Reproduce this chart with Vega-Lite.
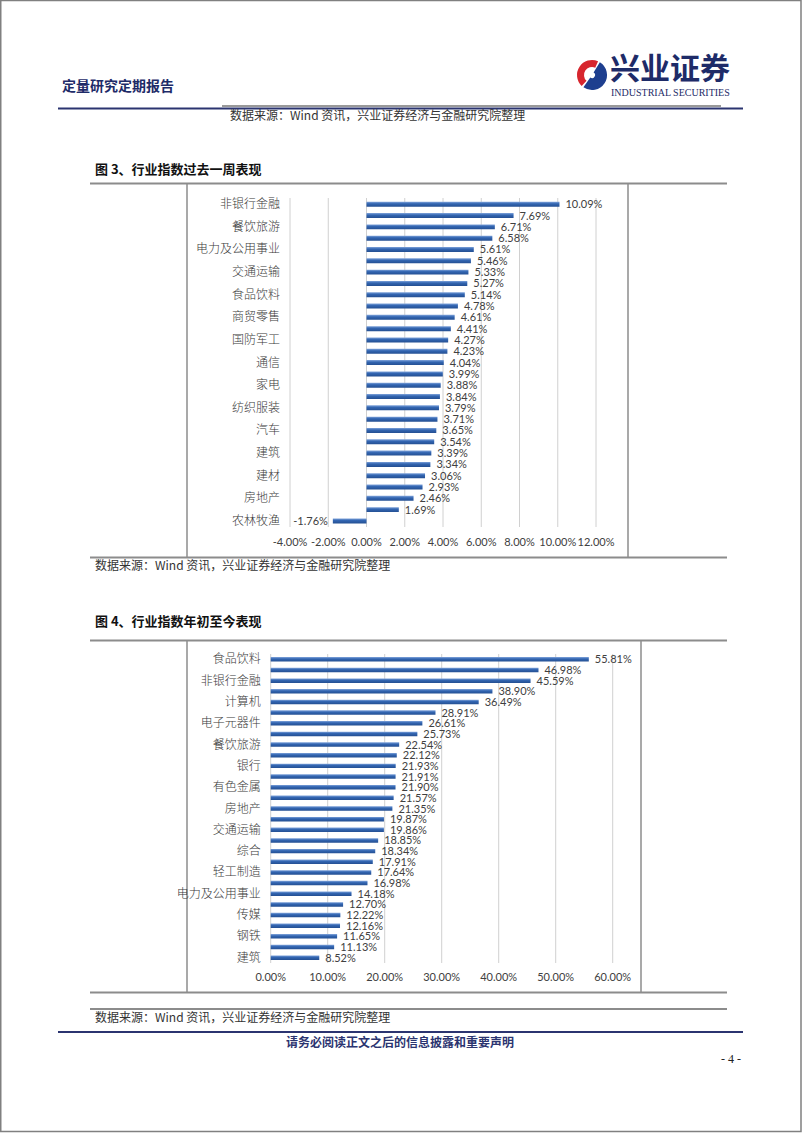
{
  "$schema": "https://vega.github.io/schema/vega-lite/v6.json",
  "width": 802,
  "height": 1133,
  "autosize": "none",
  "padding": 0,
  "background": "white",
  "config": {"view": {"stroke": null}, "locale": {"number": {"decimal": ".", "thousands": ",", "grouping": [3], "currency": ["", ""], "minus": "-"}}},
  "data": {"values": [{}]},
  "datasets": {
    "week": [
      {"i": "非银行金融", "v": 0.1009},
      {"i": "计算机", "v": 0.0769},
      {"i": "餐饮旅游", "v": 0.0671},
      {"i": "银行", "v": 0.0658},
      {"i": "电力及公用事业", "v": 0.0561},
      {"i": "电子元器件", "v": 0.0546},
      {"i": "交通运输", "v": 0.0533},
      {"i": "医药", "v": 0.0527},
      {"i": "食品饮料", "v": 0.0514},
      {"i": "传媒", "v": 0.0478},
      {"i": "商贸零售", "v": 0.0461},
      {"i": "综合", "v": 0.0441},
      {"i": "国防军工", "v": 0.0427},
      {"i": "电力设备", "v": 0.0423},
      {"i": "通信", "v": 0.0404},
      {"i": "轻工制造", "v": 0.0399},
      {"i": "家电", "v": 0.0388},
      {"i": "机械", "v": 0.0384},
      {"i": "纺织服装", "v": 0.0379},
      {"i": "基础化工", "v": 0.0371},
      {"i": "汽车", "v": 0.0365},
      {"i": "石油石化", "v": 0.0354},
      {"i": "建筑", "v": 0.0339},
      {"i": "有色金属", "v": 0.0334},
      {"i": "建材", "v": 0.0306},
      {"i": "钢铁", "v": 0.0293},
      {"i": "房地产", "v": 0.0246},
      {"i": "煤炭", "v": 0.0169},
      {"i": "农林牧渔", "v": -0.0176}
    ],
    "ytd": [
      {"i": "食品饮料", "v": 0.5581},
      {"i": "家电", "v": 0.4698},
      {"i": "非银行金融", "v": 0.4559},
      {"i": "医药", "v": 0.3890},
      {"i": "计算机", "v": 0.3649},
      {"i": "通信", "v": 0.2891},
      {"i": "电子元器件", "v": 0.2661},
      {"i": "电力设备", "v": 0.2573},
      {"i": "餐饮旅游", "v": 0.2254},
      {"i": "建材", "v": 0.2212},
      {"i": "银行", "v": 0.2193},
      {"i": "国防军工", "v": 0.2191},
      {"i": "有色金属", "v": 0.2190},
      {"i": "机械", "v": 0.2157},
      {"i": "房地产", "v": 0.2135},
      {"i": "汽车", "v": 0.1987},
      {"i": "交通运输", "v": 0.1986},
      {"i": "商贸零售", "v": 0.1885},
      {"i": "综合", "v": 0.1834},
      {"i": "基础化工", "v": 0.1791},
      {"i": "轻工制造", "v": 0.1764},
      {"i": "纺织服装", "v": 0.1698},
      {"i": "电力及公用事业", "v": 0.1418},
      {"i": "农林牧渔", "v": 0.1270},
      {"i": "传媒", "v": 0.1222},
      {"i": "石油石化", "v": 0.1216},
      {"i": "钢铁", "v": 0.1165},
      {"i": "煤炭", "v": 0.1113},
      {"i": "建筑", "v": 0.0852}
    ],
    "t1": [{"t": -0.04}, {"t": -0.02}, {"t": 0}, {"t": 0.02}, {"t": 0.04}, {"t": 0.06}, {"t": 0.08}, {"t": 0.10}, {"t": 0.12}],
    "t2": [{"t": 0}, {"t": 0.1}, {"t": 0.2}, {"t": 0.3}, {"t": 0.4}, {"t": 0.5}, {"t": 0.6}]
  },
  "resolve": {"scale": {"x": "independent", "y": "independent"}},
  "layer": [
    {"mark": {"type": "rect", "fill": null, "stroke": "#808080", "strokeWidth": 1.5}, "encoding": {"x": {"value": 0.75}, "x2": {"value": 801}, "y": {"value": 0.5}, "y2": {"value": 1131.5}}},
    {"mark": {"type": "text", "text": "定量研究定期报告", "font": "Noto Sans CJK SC", "fontSize": 14, "fontWeight": "bold", "color": "#1E2B68", "align": "left", "baseline": "middle"}, "encoding": {"x": {"value": 62}, "y": {"value": 87}}},
    {"mark": {"type": "arc", "color": "#D7262E"}, "encoding": {"x": {"value": 592}, "y": {"value": 75}, "theta": {"value": 3.9}, "theta2": {"value": 6.7}, "radius": {"value": 15}, "radius2": {"value": 8}}},
    {"mark": {"type": "arc", "color": "#1E3F8F"}, "encoding": {"x": {"value": 592}, "y": {"value": 75}, "theta": {"value": 0.55}, "theta2": {"value": 3.75}, "radius": {"value": 15}, "radius2": {"value": 3}}},
    {"mark": {"type": "text", "text": "兴业证券", "font": "Noto Sans CJK SC", "fontSize": 30, "fontWeight": "bold", "color": "#1E2B68", "align": "left", "baseline": "middle"}, "encoding": {"x": {"value": 610}, "y": {"value": 70}}},
    {"mark": {"type": "text", "text": "INDUSTRIAL SECURITIES", "font": "Liberation Serif", "fontSize": 10, "color": "#1E2B68", "align": "left", "baseline": "middle"}, "encoding": {"x": {"value": 611}, "y": {"value": 92.5}}},
    {"mark": {"type": "rule", "color": "#999999", "strokeWidth": 2}, "encoding": {"x": {"value": 222}, "x2": {"value": 721}, "y": {"value": 106}}},
    {"mark": {"type": "rule", "color": "#2B3470", "strokeWidth": 2}, "encoding": {"x": {"value": 58}, "x2": {"value": 743}, "y": {"value": 108.5}}},
    {"mark": {"type": "text", "text": "数据来源：Wind 资讯，兴业证券经济与金融研究院整理", "font": "Noto Sans CJK SC", "fontSize": 12, "color": "#333333", "align": "left", "baseline": "middle"}, "encoding": {"x": {"value": 230}, "y": {"value": 116}}},
    {"mark": {"type": "text", "text": "图 3、行业指数过去一周表现", "font": "Noto Sans CJK SC", "fontSize": 13, "fontWeight": "bold", "color": "#111111", "align": "left", "baseline": "middle"}, "encoding": {"x": {"value": 95}, "y": {"value": 170}}},
    {"mark": {"type": "rule", "color": "#8C8C8C", "strokeWidth": 2}, "encoding": {"x": {"value": 90}, "x2": {"value": 727}, "y": {"value": 183.5}}},
    {"mark": {"type": "rule", "color": "#8C8C8C", "strokeWidth": 2}, "encoding": {"x": {"value": 90}, "x2": {"value": 727}, "y": {"value": 557.5}}},
    {"mark": {"type": "rule", "color": "#8C8C8C", "strokeWidth": 1.5}, "encoding": {"x": {"value": 187}, "y": {"value": 183.5}, "y2": {"value": 557.5}}},
    {"mark": {"type": "rule", "color": "#8C8C8C", "strokeWidth": 1.5}, "encoding": {"x": {"value": 628}, "y": {"value": 183.5}, "y2": {"value": 557.5}}},
    {"mark": {"type": "text", "text": "数据来源：Wind 资讯，兴业证券经济与金融研究院整理", "font": "Noto Sans CJK SC", "fontSize": 12, "color": "#333333", "align": "left", "baseline": "middle"}, "encoding": {"x": {"value": 95}, "y": {"value": 566}}},
    {"mark": {"type": "text", "text": "图 4、行业指数年初至今表现", "font": "Noto Sans CJK SC", "fontSize": 13, "fontWeight": "bold", "color": "#111111", "align": "left", "baseline": "middle"}, "encoding": {"x": {"value": 95}, "y": {"value": 622}}},
    {"mark": {"type": "rule", "color": "#8C8C8C", "strokeWidth": 2}, "encoding": {"x": {"value": 90}, "x2": {"value": 727}, "y": {"value": 640.5}}},
    {"mark": {"type": "rule", "color": "#8C8C8C", "strokeWidth": 2}, "encoding": {"x": {"value": 90}, "x2": {"value": 727}, "y": {"value": 992.5}}},
    {"mark": {"type": "rule", "color": "#8C8C8C", "strokeWidth": 1.5}, "encoding": {"x": {"value": 187}, "y": {"value": 640.5}, "y2": {"value": 992.5}}},
    {"mark": {"type": "rule", "color": "#8C8C8C", "strokeWidth": 1.5}, "encoding": {"x": {"value": 641}, "y": {"value": 640.5}, "y2": {"value": 992.5}}},
    {"mark": {"type": "rule", "color": "#8C8C8C", "strokeWidth": 2}, "encoding": {"x": {"value": 90}, "x2": {"value": 727}, "y": {"value": 1009}}},
    {"mark": {"type": "text", "text": "数据来源：Wind 资讯，兴业证券经济与金融研究院整理", "font": "Noto Sans CJK SC", "fontSize": 12, "color": "#333333", "align": "left", "baseline": "middle"}, "encoding": {"x": {"value": 95}, "y": {"value": 1018}}},
    {"mark": {"type": "rule", "color": "#2B3470", "strokeWidth": 2}, "encoding": {"x": {"value": 58}, "x2": {"value": 743}, "y": {"value": 1032}}},
    {"mark": {"type": "text", "text": "请务必阅读正文之后的信息披露和重要声明", "font": "Noto Sans CJK SC", "fontSize": 12, "fontWeight": "bold", "color": "#2B3470", "align": "center", "baseline": "middle"}, "encoding": {"x": {"value": 400}, "y": {"value": 1043}}},
    {"mark": {"type": "text", "text": "- 4 -", "font": "Liberation Serif", "fontSize": 12, "color": "#222222", "align": "right", "baseline": "middle"}, "encoding": {"x": {"value": 741}, "y": {"value": 1059}}},
    {
      "data": {"name": "week"},
      "layer": [
        {
          "data": {"name": "t1"},
          "mark": {"type": "rule", "color": "#D0D0D0", "strokeWidth": 1},
          "encoding": {
            "x": {"field": "t", "type": "quantitative", "axis": null, "scale": {"domain": [-0.04, 0.12], "range": [290, 596], "nice": false, "zero": false}},
            "y": {"value": 198},
            "y2": {"value": 527}
          }
        },
        {
          "data": {"name": "t1"},
          "mark": {"type": "text", "font": "Lato", "fontSize": 11, "color": "#404040", "align": "center", "baseline": "middle"},
          "encoding": {
            "x": {"field": "t", "type": "quantitative", "axis": null, "scale": {"domain": [-0.04, 0.12], "range": [290, 596], "nice": false, "zero": false}},
            "y": {"value": 543},
            "text": {"field": "t", "type": "quantitative", "format": ".2%"}
          }
        },
        {
          "mark": {"type": "bar", "color": {"gradient": "linear", "x1": 0, "y1": 0, "x2": 0, "y2": 1, "stops": [{"offset": 0, "color": "#7FA3DA"}, {"offset": 0.4, "color": "#3366B2"}, {"offset": 1, "color": "#244F92"}]}},
          "encoding": {
            "x": {"field": "v", "type": "quantitative", "axis": null, "scale": {"domain": [-0.04, 0.12], "range": [290, 596], "nice": false, "zero": false}},
            "y": {"field": "i", "type": "nominal", "axis": null, "scale": {"domain": ["非银行金融","计算机","餐饮旅游","银行","电力及公用事业","电子元器件","交通运输","医药","食品饮料","传媒","商贸零售","综合","国防军工","电力设备","通信","轻工制造","家电","机械","纺织服装","基础化工","汽车","石油石化","建筑","有色金属","建材","钢铁","房地产","煤炭","农林牧渔"], "range": [198.6, 526.6], "paddingInner": 0.56, "paddingOuter": 0.28}}
          }
        },
        {
          "transform": [{"filter": "datum.v >= 0"}],
          "mark": {"type": "text", "font": "Lato", "fontSize": 11, "color": "#404040", "align": "left", "baseline": "middle", "dx": 6, "dy": 1},
          "encoding": {
            "x": {"field": "v", "type": "quantitative", "axis": null, "scale": {"domain": [-0.04, 0.12], "range": [290, 596], "nice": false, "zero": false}},
            "y": {"field": "i", "type": "nominal", "axis": null, "scale": {"domain": ["非银行金融","计算机","餐饮旅游","银行","电力及公用事业","电子元器件","交通运输","医药","食品饮料","传媒","商贸零售","综合","国防军工","电力设备","通信","轻工制造","家电","机械","纺织服装","基础化工","汽车","石油石化","建筑","有色金属","建材","钢铁","房地产","煤炭","农林牧渔"], "range": [198.6, 526.6], "paddingInner": 0.56, "paddingOuter": 0.28}},
            "text": {"field": "v", "type": "quantitative", "format": ".2%"}
          }
        },
        {
          "transform": [{"filter": "datum.v < 0"}],
          "mark": {"type": "text", "font": "Lato", "fontSize": 11, "color": "#404040", "align": "right", "baseline": "middle", "dx": -5, "dy": 1},
          "encoding": {
            "x": {"field": "v", "type": "quantitative", "axis": null, "scale": {"domain": [-0.04, 0.12], "range": [290, 596], "nice": false, "zero": false}},
            "y": {"field": "i", "type": "nominal", "axis": null, "scale": {"domain": ["非银行金融","计算机","餐饮旅游","银行","电力及公用事业","电子元器件","交通运输","医药","食品饮料","传媒","商贸零售","综合","国防军工","电力设备","通信","轻工制造","家电","机械","纺织服装","基础化工","汽车","石油石化","建筑","有色金属","建材","钢铁","房地产","煤炭","农林牧渔"], "range": [198.6, 526.6], "paddingInner": 0.56, "paddingOuter": 0.28}},
            "text": {"field": "v", "type": "quantitative", "format": ".2%"}
          }
        },
        {
          "transform": [{"filter": {"field": "i", "oneOf": ["非银行金融","餐饮旅游","电力及公用事业","交通运输","食品饮料","商贸零售","国防军工","通信","家电","纺织服装","汽车","建筑","建材","房地产","农林牧渔"]}}],
          "mark": {"type": "text", "font": "Noto Sans CJK SC", "fontWeight": 300, "fontSize": 12, "color": "#3A3A3A", "align": "right", "baseline": "middle", "dx": -10},
          "encoding": {
            "x": {"datum": -0.04, "type": "quantitative", "axis": null, "scale": {"domain": [-0.04, 0.12], "range": [290, 596], "nice": false, "zero": false}},
            "y": {"field": "i", "type": "nominal", "axis": null, "scale": {"domain": ["非银行金融","计算机","餐饮旅游","银行","电力及公用事业","电子元器件","交通运输","医药","食品饮料","传媒","商贸零售","综合","国防军工","电力设备","通信","轻工制造","家电","机械","纺织服装","基础化工","汽车","石油石化","建筑","有色金属","建材","钢铁","房地产","煤炭","农林牧渔"], "range": [198.6, 526.6], "paddingInner": 0.56, "paddingOuter": 0.28}},
            "text": {"field": "i", "type": "nominal"}
          }
        }
      ]
    },
    {
      "data": {"name": "ytd"},
      "layer": [
        {
          "data": {"name": "t2"},
          "mark": {"type": "rule", "color": "#D0D0D0", "strokeWidth": 1},
          "encoding": {
            "x": {"field": "t", "type": "quantitative", "axis": null, "scale": {"domain": [0, 0.6], "range": [270.7, 612.7], "nice": false, "zero": false}},
            "y": {"value": 654},
            "y2": {"value": 963}
          }
        },
        {
          "data": {"name": "t2"},
          "mark": {"type": "text", "font": "Lato", "fontSize": 11, "color": "#404040", "align": "center", "baseline": "middle"},
          "encoding": {
            "x": {"field": "t", "type": "quantitative", "axis": null, "scale": {"domain": [0, 0.6], "range": [270.7, 612.7], "nice": false, "zero": false}},
            "y": {"value": 978},
            "text": {"field": "t", "type": "quantitative", "format": ".2%"}
          }
        },
        {
          "mark": {"type": "bar", "color": {"gradient": "linear", "x1": 0, "y1": 0, "x2": 0, "y2": 1, "stops": [{"offset": 0, "color": "#7FA3DA"}, {"offset": 0.4, "color": "#3366B2"}, {"offset": 1, "color": "#244F92"}]}},
          "encoding": {
            "x": {"field": "v", "type": "quantitative", "axis": null, "scale": {"domain": [0, 0.6], "range": [270.7, 612.7], "nice": false, "zero": false}},
            "y": {"field": "i", "type": "nominal", "axis": null, "scale": {"domain": ["食品饮料","家电","非银行金融","医药","计算机","通信","电子元器件","电力设备","餐饮旅游","建材","银行","国防军工","有色金属","机械","房地产","汽车","交通运输","商贸零售","综合","基础化工","轻工制造","纺织服装","电力及公用事业","农林牧渔","传媒","石油石化","钢铁","煤炭","建筑"], "range": [654, 963], "paddingInner": 0.58, "paddingOuter": 0.29}}
          }
        },
        {
          "mark": {"type": "text", "font": "Lato", "fontSize": 11, "color": "#404040", "align": "left", "baseline": "middle", "dx": 6, "dy": 1},
          "encoding": {
            "x": {"field": "v", "type": "quantitative", "axis": null, "scale": {"domain": [0, 0.6], "range": [270.7, 612.7], "nice": false, "zero": false}},
            "y": {"field": "i", "type": "nominal", "axis": null, "scale": {"domain": ["食品饮料","家电","非银行金融","医药","计算机","通信","电子元器件","电力设备","餐饮旅游","建材","银行","国防军工","有色金属","机械","房地产","汽车","交通运输","商贸零售","综合","基础化工","轻工制造","纺织服装","电力及公用事业","农林牧渔","传媒","石油石化","钢铁","煤炭","建筑"], "range": [654, 963], "paddingInner": 0.58, "paddingOuter": 0.29}},
            "text": {"field": "v", "type": "quantitative", "format": ".2%"}
          }
        },
        {
          "transform": [{"filter": {"field": "i", "oneOf": ["食品饮料","非银行金融","计算机","电子元器件","餐饮旅游","银行","有色金属","房地产","交通运输","综合","轻工制造","电力及公用事业","传媒","钢铁","建筑"]}}],
          "mark": {"type": "text", "font": "Noto Sans CJK SC", "fontWeight": 300, "fontSize": 12, "color": "#3A3A3A", "align": "right", "baseline": "middle", "dx": -10},
          "encoding": {
            "x": {"datum": 0, "type": "quantitative", "axis": null, "scale": {"domain": [0, 0.6], "range": [270.7, 612.7], "nice": false, "zero": false}},
            "y": {"field": "i", "type": "nominal", "axis": null, "scale": {"domain": ["食品饮料","家电","非银行金融","医药","计算机","通信","电子元器件","电力设备","餐饮旅游","建材","银行","国防军工","有色金属","机械","房地产","汽车","交通运输","商贸零售","综合","基础化工","轻工制造","纺织服装","电力及公用事业","农林牧渔","传媒","石油石化","钢铁","煤炭","建筑"], "range": [654, 963], "paddingInner": 0.58, "paddingOuter": 0.29}},
            "text": {"field": "i", "type": "nominal"}
          }
        }
      ]
    }
  ]
}
